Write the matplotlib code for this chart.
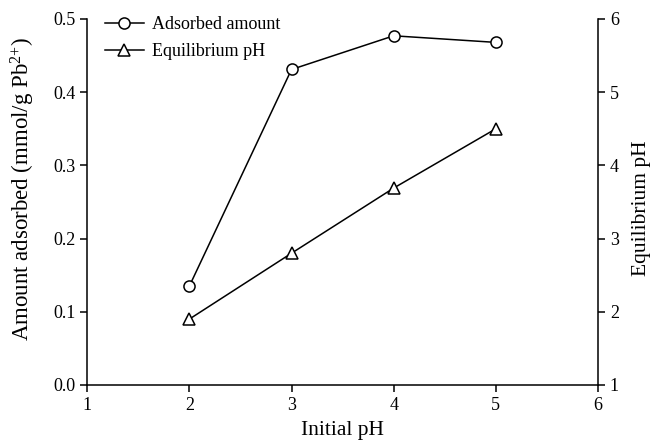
import matplotlib
matplotlib.use("Agg")
import matplotlib.pyplot as plt

plt.rcParams["font.family"] = ["Liberation Serif", "DejaVu Serif"]
plt.rcParams["mathtext.default"] = "regular"
plt.rcParams["font.size"] = 13

initial_ph = [2, 3, 4, 5]
adsorbed = [0.135, 0.431, 0.477, 0.468]
equilibrium_ph = [1.9, 2.8, 3.69, 4.5]

fig = plt.figure(figsize=(6.53, 4.41), dpi=100)
ax = fig.add_axes([0.1335, 0.127, 0.7823, 0.830])
ax2 = ax.twinx()

l1, = ax.plot(initial_ph, adsorbed, color="black", lw=1.1, marker="o",
              markersize=8, markerfacecolor="white", markeredgecolor="black",
              markeredgewidth=1.1, label="Adsorbed amount")
l2, = ax2.plot(initial_ph, equilibrium_ph, color="black", lw=1.1, marker="^",
               markersize=8, markerfacecolor="white", markeredgecolor="black",
               markeredgewidth=1.1, label="Equilibrium pH")

ax.set_xlim(1, 6)
ax.set_ylim(0, 0.5)
ax2.set_ylim(1, 6)
ax.set_xticks([1, 2, 3, 4, 5, 6])
ax.set_yticks([0.0, 0.1, 0.2, 0.3, 0.4, 0.5])
ax.set_yticklabels(["0.0", "0.1", "0.2", "0.3", "0.4", "0.5"])
ax2.set_yticks([1, 2, 3, 4, 5, 6])

for a in (ax, ax2):
    a.spines["top"].set_visible(False)
    for s in a.spines.values():
        s.set_linewidth(1.1)
    a.tick_params(direction="out", length=5, width=1.1)
ax.spines["right"].set_visible(False)
ax2.spines["left"].set_visible(False)
ax2.spines["bottom"].set_visible(False)

ax.set_xlabel("Initial pH", fontsize=15.5, labelpad=5)
ax.set_ylabel("Amount adsorbed (mmol/g Pb$^{2{+}}$)", fontsize=16.5)
ax.yaxis.set_label_coords(-0.098, 0.535)
ax2.set_ylabel("Equilibrium pH", fontsize=15.5)
ax2.yaxis.set_label_coords(1.066, 0.484)

ax.legend(handles=[l1, l2], loc="upper left", frameon=False,
          handlelength=2.2, borderaxespad=0.0, bbox_to_anchor=(0.02, 1.027),
          labelspacing=0.55, handletextpad=0.4)

fig.savefig("out.png", dpi=100)
